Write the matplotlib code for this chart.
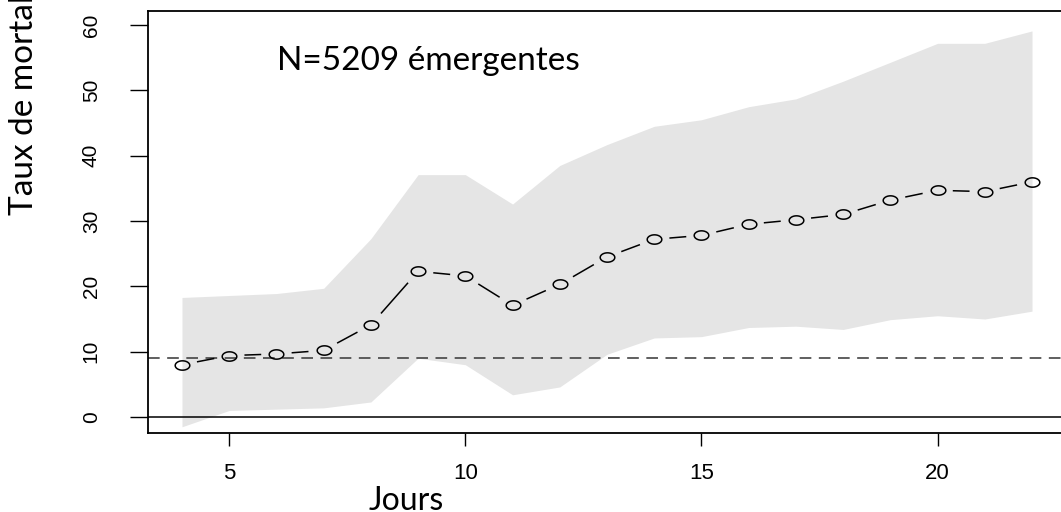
import numpy as np
import matplotlib
matplotlib.use("Agg")
import matplotlib.pyplot as plt
from matplotlib.path import Path

# data
jours = [4, 5, 6, 7, 8, 9, 10, 11, 12, 13, 14, 15, 16, 17, 18, 19, 20, 21, 22]
taux = [8.0, 9.4, 9.65, 10.2, 14.1, 22.3, 21.6, 17.1, 20.3, 24.5, 27.2, 27.8,
        29.5, 30.2, 31.0, 33.2, 34.7, 34.5, 36.0]
borne_haute = [18.3, 18.6, 18.9, 19.7, 27.3, 37.1, 37.1, 32.6, 38.5, 41.7, 44.5,
               45.5, 47.5, 48.7, 51.4, 54.3, 57.2, 57.2, 59.1]
borne_basse = [-1.5, 1.0, 1.2, 1.4, 2.3, 9.0, 8.0, 3.4, 4.6, 9.6, 12.1, 12.3,
               13.7, 13.9, 13.4, 14.9, 15.5, 15.0, 16.2]
taux_reference = 9.1
x_ticks = [5, 10, 15, 20]
y_ticks = [0, 10, 20, 30, 40, 50, 60]
annotation = "N=5209 émergentes"
x_label = "Jours"
y_label = "Taux de mortalité (%)"

W, H = 1061, 512
fig = plt.figure(figsize=(W / 100, H / 100), dpi=100)
ax = fig.add_axes([148 / W, 1 - 433 / H, 918 / W, 422 / H])
ax.set_xlim(3.28, 22.72)
ax.set_ylim(-2.45, 62.15)

tick_font = ["Liberation Sans Narrow", "Liberation Sans", "DejaVu Sans"]
label_font = ["Lato", "DejaVu Sans"]

# confidence band
ax.fill_between(jours, borne_basse, borne_haute, color="#e5e5e5", lw=0, zorder=1)

# reference lines
ax.axhline(0, color="black", lw=1.1, zorder=2)
ax.axhline(taux_reference, color="#444444", lw=1.2, dashes=(7, 4.5), zorder=2)

# R type="b": line segments stopping short of each point
pts = ax.transData.transform(np.column_stack([jours, taux]))
gap = 16.0
seg_x, seg_y = [], []
for p0, p1 in zip(pts[:-1], pts[1:]):
    d = p1 - p0
    n = np.hypot(*d)
    if n <= 2 * gap:
        continue
    u = d / n
    a = ax.transData.inverted().transform(p0 + u * gap)
    b = ax.transData.inverted().transform(p1 - u * gap)
    seg_x += [a[0], b[0], np.nan]
    seg_y += [a[1], b[1], np.nan]
ax.plot(seg_x, seg_y, color="black", lw=1.1, zorder=3)

# slightly flattened open circles
t = np.linspace(0, 2 * np.pi, 60)
ellipse = Path(np.column_stack([np.cos(t), 0.64 * np.sin(t)]), closed=True)
ax.plot(jours, taux, ls="none", marker=ellipse, ms=10.5, mfc="none",
        mec="black", mew=1.1, zorder=4)

for s in ax.spines.values():
    s.set_linewidth(1.3)

ax.set_xticks(x_ticks)
ax.set_xticklabels([str(v) for v in x_ticks], family=tick_font, fontsize=16)
ax.set_yticks(y_ticks)
ax.set_yticklabels([str(v) for v in y_ticks], family=tick_font, fontsize=15,
                   rotation=90, va="center")
ax.tick_params(axis="x", length=9.5, width=1.0, pad=12)
ax.tick_params(axis="y", length=13, width=1.0, pad=21)

fig.text(277 / W, 1 - 70 / H, annotation, family=label_font, fontsize=24,
         ha="left", va="baseline")
fig.text(406 / W, 1 - 486 / H, x_label, family=label_font, fontsize=23,
         ha="center", va="top")
fig.text(24 / W, 1 - 215 / H, y_label, family=label_font, fontsize=24,
         rotation=90, ha="center", va="bottom")

fig.savefig("out.png", dpi=100)
